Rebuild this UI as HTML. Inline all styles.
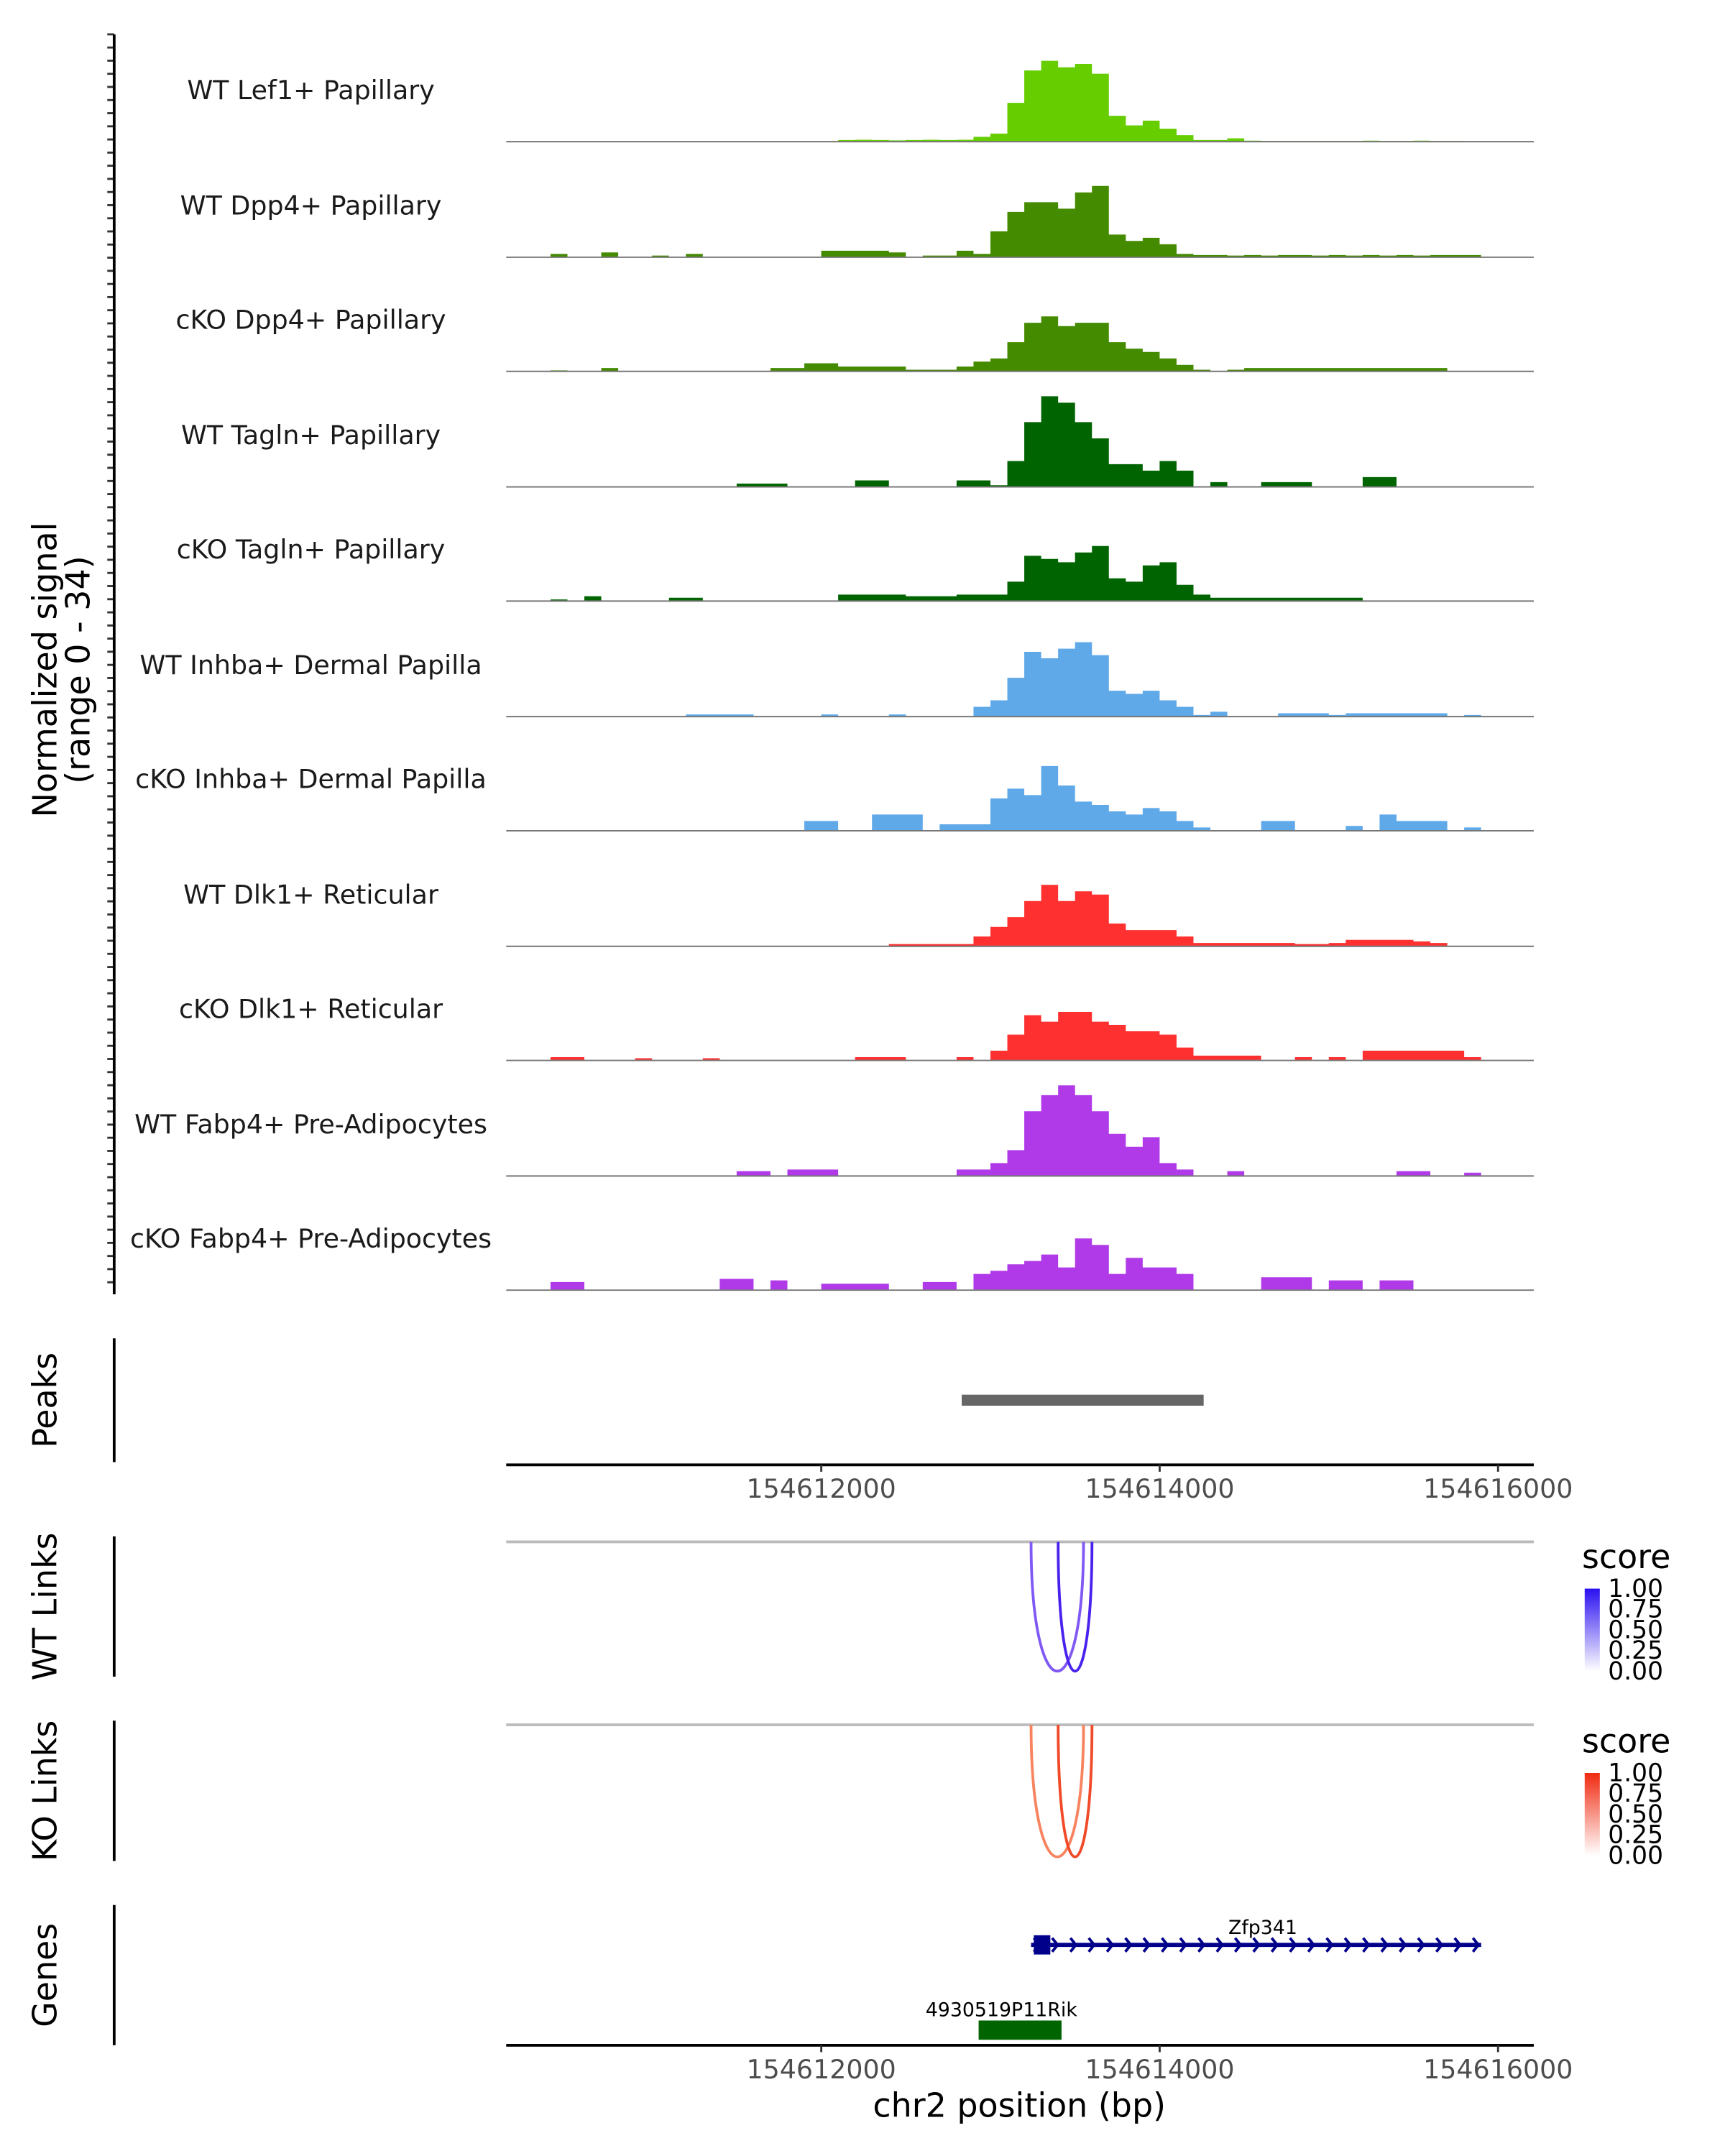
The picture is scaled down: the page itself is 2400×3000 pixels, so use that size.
<!DOCTYPE html>
<html><head><meta charset="utf-8"><style>html,body{margin:0;padding:0;background:#fff}svg{display:block}text{font-family:"DejaVu Sans","Liberation Sans",sans-serif}</style></head>
<body>
<svg id="chart" xmlns="http://www.w3.org/2000/svg" width="2400" height="3000" viewBox="0 0 1254 1567.5" style="position:absolute;left:0;top:0">
<g id="tracks"></g>
<g id="static"></g>
</svg>
<script>
// ---- data ----
const binStart = 154610150;
const binSize = 100;
const trackNames = ["WT Lef1+ Papillary","WT Dpp4+ Papillary","cKO Dpp4+ Papillary","WT Tagln+ Papillary","cKO Tagln+ Papillary","WT Inhba+ Dermal Papilla","cKO Inhba+ Dermal Papilla","WT Dlk1+ Reticular","cKO Dlk1+ Reticular","WT Fabp4+ Pre-Adipocytes","cKO Fabp4+ Pre-Adipocytes"];
const trackColors = ["#66cd00","#458b00","#458b00","#006400","#006400","#5fa9e9","#5fa9e9","#ff3030","#ff3030","#b03ae8","#b03ae8"];
const sigLef1WT = [0,0,0,0,0,0,0,0,0,0,0,0,0,0,0,0,0,0,0,0,0.5,0.6,0.5,0.4,0.5,0.6,0.5,0.6,1.5,2.5,12,22,25,23,24,21,8,5,6.5,4,2,0.5,0.5,1,0.3,0.2,0.2,0.2,0.2,0.2,0.2,0.3,0.2,0.2,0.3,0.2,0.2,0,0,0];
const sigDpp4WT = [0,0,0,1,0,0,1.5,0,0,0.5,0,1,0,0,0,0,0,0,0,2,2,2,2,1.5,0,0.5,0.5,2,1,8,14,17,17,15,20,22,7,5,6,4,1,0.7,0.7,0.5,0.7,0.5,0.7,0.7,0.5,0.7,0.5,0.7,0.5,0.7,0.5,0.7,0.7,0.7,0,0];
const sigDpp4KO = [0,0,0,0.3,0,0,1,0,0,0,0,0,0,0,0,0,1,1,2.5,2.5,1.5,1.5,1.5,1.5,0.5,0.5,0.5,1.5,3,4,9,15,17,14,15,15,9,7,6,4,2,0.5,0,0.5,1,1,1,1,1,1,1,1,1,1,1,1,0,0,0,0];
const sigTaglnWT = [0,0,0,0,0,0,0,0,0,0,0,0,0,0,1,1,1,0,0,0,0,2,2,0,0,0,0,2,2,0.5,8,20,28,26,20,15,7,7,5,8,5,0,1.5,0,0,1.5,1.5,1.5,0,0,0,3,3,0,0,0,0,0,0,0];
const sigTaglnKO = [0,0,0,0.5,0,1.5,0,0,0,0,1,1,0,0,0,0,0,0,0,0,2,2,2,2,1.5,1.5,1.5,2,2,2,6,14,13,12,15,17,7,6,11,12,5,2,1,1,1,1,1,1,1,1,1,0,0,0,0,0,0,0,0,0];
const sigInhbaWT = [0,0,0,0,0,0,0,0,0,0,0,0.7,0.7,0.7,0.7,0,0,0,0,0.7,0,0,0,0.7,0,0,0,0,3,5,12,20,18,21,23,19,8,7,8,5,3,0.5,1.5,0,0,0,1,1,1,0.5,1,1,1,1,1,1,0,0.5,0,0];
const sigInhbaKO = [0,0,0,0,0,0,0,0,0,0,0,0,0,0,0,0,0,0,3,3,0,0,5,5,5,0,2,2,2,10,13,11,20,14,9,8,6,5,7,6,3,1,0,0,0,3,3,0,0,0,1.5,0,5,3,3,3,0,1,0,0];
const sigDlk1WT = [0,0,0,0,0,0,0,0,0,0,0,0,0,0,0,0,0,0,0,0,0,0,0,0.7,0.7,0.7,0.7,0.7,3,6,9,14,19,14,17,16,7,5,5,5,3,1,1,1,1,1,1,0.7,0.7,1,2,2,2,2,1.5,1,0,0,0,0];
const sigDlk1KO = [0,0,0,1,1,0,0,0,0.7,0,0,0,0.7,0,0,0,0,0,0,0,0,1,1,1,0,0,0,1,0,3,8,14,12,15,15,12,11,9,9,8,4,1.5,1.5,1.5,1.5,0,0,1,0,1,0,3,3,3,3,3,3,1,0,0];
const sigFabp4WT = [0,0,0,0,0,0,0,0,0,0,0,0,0,0,1.5,1.5,0,2,2,2,0,0,0,0,0,0,0,2,2,4,8,20,25,28,25,20,13,9,12,4,2,0,0,1.5,0,0,0,0,0,0,0,0,0,1.5,1.5,0,0,1,0,0];
const sigFabp4KO = [0,0,0,2.5,2.5,0,0,0,0,0,0,0,0,3.5,3.5,0,3,0,0,2,2,2,2,0,0,2.5,2.5,0,5,6,8,9,11,7,16,14,5,10,7,7,5,0,0,0,0,4,4,4,0,3,3,0,3,3,0,0,0,0,0,0];
const trackSignals = [sigLef1WT,sigDpp4WT,sigDpp4KO,sigTaglnWT,sigTaglnKO,sigInhbaWT,sigInhbaKO,sigDlk1WT,sigDlk1KO,sigFabp4WT,sigFabp4KO];
const xTicks = [154612000,154614000,154616000];
const peakRegion = [154612830,154614260];
const wtLinks = [[154613240,154613550],[154613400,154613600]];
const wtLinkScores = [0.75,0.95];
const koLinks = [[154613240,154613550],[154613400,154613600]];
const koLinkScores = [0.6,0.9];
const geneZfp = [154613240,154615900];
const geneRik = [154612930,154613420];

// ---- scales ----
const NS="http://www.w3.org/2000/svg";
const X0=368,X1=1115,BP0=154610138,PXBP=0.123;
function xs(bp){return X0+(bp-BP0)*PXBP;}
const YMAX=34,TH=80;
function ys(base,v){return base-v/YMAX*TH;}
function mk(tag,attrs,parent){const e=document.createElementNS(NS,tag);for(const k in attrs)e.setAttribute(k,attrs[k]);parent.appendChild(e);return e;}
const T=document.getElementById('tracks');
const baselines=[103,187,270,354,437,521,604,688,771,855,938];
trackSignals.forEach((sig,t)=>{
  const b=baselines[t];
  let d="M"+X0+" "+b;
  sig.forEach((v,i)=>{const c=xs(binStart+binSize*i);const y=ys(b,v);d+=" L"+(c-6.15).toFixed(1)+" "+y.toFixed(1)+" L"+(c+6.15).toFixed(1)+" "+y.toFixed(1);});
  d+=" L"+X1+" "+b+" Z";
  const p=mk('path',{d:d,fill:trackColors[t]},T);
  
  
  const l=mk('line',{x1:X0,x2:X1,y1:b,y2:b,stroke:'#777','stroke-width':1},T);
  
  
  const tx=mk('text',{x:226,y:b-31,'font-size':19,'text-anchor':'middle',fill:'#1a1a1a'},T);
  tx.textContent=trackNames[t];
  
  
});
for(let y=25;y<=940;y+=9.55){const l=mk('line',{x1:78,x2:83,y1:y,y2:y,stroke:'#333','stroke-width':1.5},T);

}
const S=document.getElementById('static');
const pk=mk('rect',{x:xs(peakRegion[0]),y:1014,width:xs(peakRegion[1])-xs(peakRegion[0]),height:8,fill:'#666'},S);


[1065,1487].forEach(ay=>{
  mk('line',{x1:X0,x2:X1,y1:ay,y2:ay,stroke:'#000','stroke-width':2},S);
  xTicks.forEach(v=>{const x=xs(v);mk('line',{x1:x,x2:x,y1:ay,y2:ay+5,stroke:'#333','stroke-width':1.5},S);
  const t=mk('text',{x:x,y:ay+24,'font-size':19,'text-anchor':'middle',fill:'#4d4d4d'},S);t.textContent=v;
  
  });
});
function links(arr,scores,top,bottom,c0,c1){
  mk('line',{x1:X0,x2:X1,y1:top,y2:top,stroke:'#bbb','stroke-width':2},S);
  arr.forEach((lk,i)=>{const a=xs(lk[0]),b=xs(lk[1]);const cy=top+(bottom-top)/0.75;
  const col=scores[i]>0.8?c1:c0;
  const p=mk('path',{d:`M${a} ${top} C${a} ${cy} ${b} ${cy} ${b} ${top}`,fill:'none',stroke:col,'stroke-width':2},S);
  
  });
}
links(wtLinks,wtLinkScores,1121,1215,'#8059f5','#4a22ee');
links(koLinks,koLinkScores,1254,1350,'#f7835f','#f04a28');
const zx0=xs(geneZfp[0]),zx1=xs(geneZfp[1]);
mk('line',{x1:zx0,x2:zx1,y1:1414,y2:1414,stroke:'#00008b','stroke-width':3},S);
for(let x=zx0+4;x<=zx1;x+=13.3){mk('path',{d:`M${x-2} 1409 L${x+2} 1414 L${x-2} 1419`,fill:'none',stroke:'#00008b','stroke-width':2},S);}
const zb=mk('rect',{x:zx0+2,y:1407,width:12,height:14,fill:'#00008b'},S);


const rb=mk('rect',{x:xs(geneRik[0]),y:1469,width:xs(geneRik[1])-xs(geneRik[0]),height:14,fill:'#006400'},S);


</script>
<svg style="position:absolute;left:0;top:0" width="2400" height="3000" viewBox="0 0 1254 1567.5" xmlns="http://www.w3.org/2000/svg">
<defs>
<linearGradient id="gb" x1="0" y1="1" x2="0" y2="0"><stop offset="0" stop-color="#fff"/><stop offset="1" stop-color="#2a10f0"/></linearGradient>
<linearGradient id="gr" x1="0" y1="1" x2="0" y2="0"><stop offset="0" stop-color="#fff"/><stop offset="1" stop-color="#f02a10"/></linearGradient>
</defs>
<line x1="83" y1="25" x2="83" y2="941" stroke="#000" stroke-width="2"/>
<text transform="translate(41,487) rotate(-90)" font-size="24" text-anchor="middle" fill="#000">Normalized signal</text>
<text transform="translate(65,487) rotate(-90)" font-size="24" text-anchor="middle" fill="#000">(range 0 - 34)</text>
<line x1="83" y1="973" x2="83" y2="1063" stroke="#000" stroke-width="2"/>
<text transform="translate(41,1018) rotate(-90)" font-size="24" text-anchor="middle">Peaks</text>
<line x1="83" y1="1117" x2="83" y2="1219" stroke="#000" stroke-width="2"/>
<text transform="translate(41,1168) rotate(-90)" font-size="24" text-anchor="middle">WT Links</text>
<line x1="83" y1="1251" x2="83" y2="1353" stroke="#000" stroke-width="2"/>
<text transform="translate(41,1302) rotate(-90)" font-size="24" text-anchor="middle">KO Links</text>
<line x1="83" y1="1385" x2="83" y2="1487" stroke="#000" stroke-width="2"/>
<text transform="translate(41,1436) rotate(-90)" font-size="24" text-anchor="middle">Genes</text>
<text x="741" y="1539" font-size="24" text-anchor="middle">chr2 position (bp)</text>
<text x="918" y="1406" font-size="14" text-anchor="middle">Zfp341</text>
<text x="728" y="1466" font-size="14" text-anchor="middle">4930519P11Rik</text>
<g>
<text x="1150" y="1140" font-size="24">score</text>
<rect x="1152" y="1155" width="11" height="60" fill="url(#gb)"/>
<g font-size="18"><text x="1169" y="1161">1.00</text><text x="1169" y="1176">0.75</text><text x="1169" y="1191">0.50</text><text x="1169" y="1206">0.25</text><text x="1169" y="1221">0.00</text></g>
</g>
<g>
<text x="1150" y="1274" font-size="24">score</text>
<rect x="1152" y="1289" width="11" height="60" fill="url(#gr)"/>
<g font-size="18"><text x="1169" y="1295">1.00</text><text x="1169" y="1310">0.75</text><text x="1169" y="1325">0.50</text><text x="1169" y="1340">0.25</text><text x="1169" y="1355">0.00</text></g>
</g>
</svg>
</body></html>
